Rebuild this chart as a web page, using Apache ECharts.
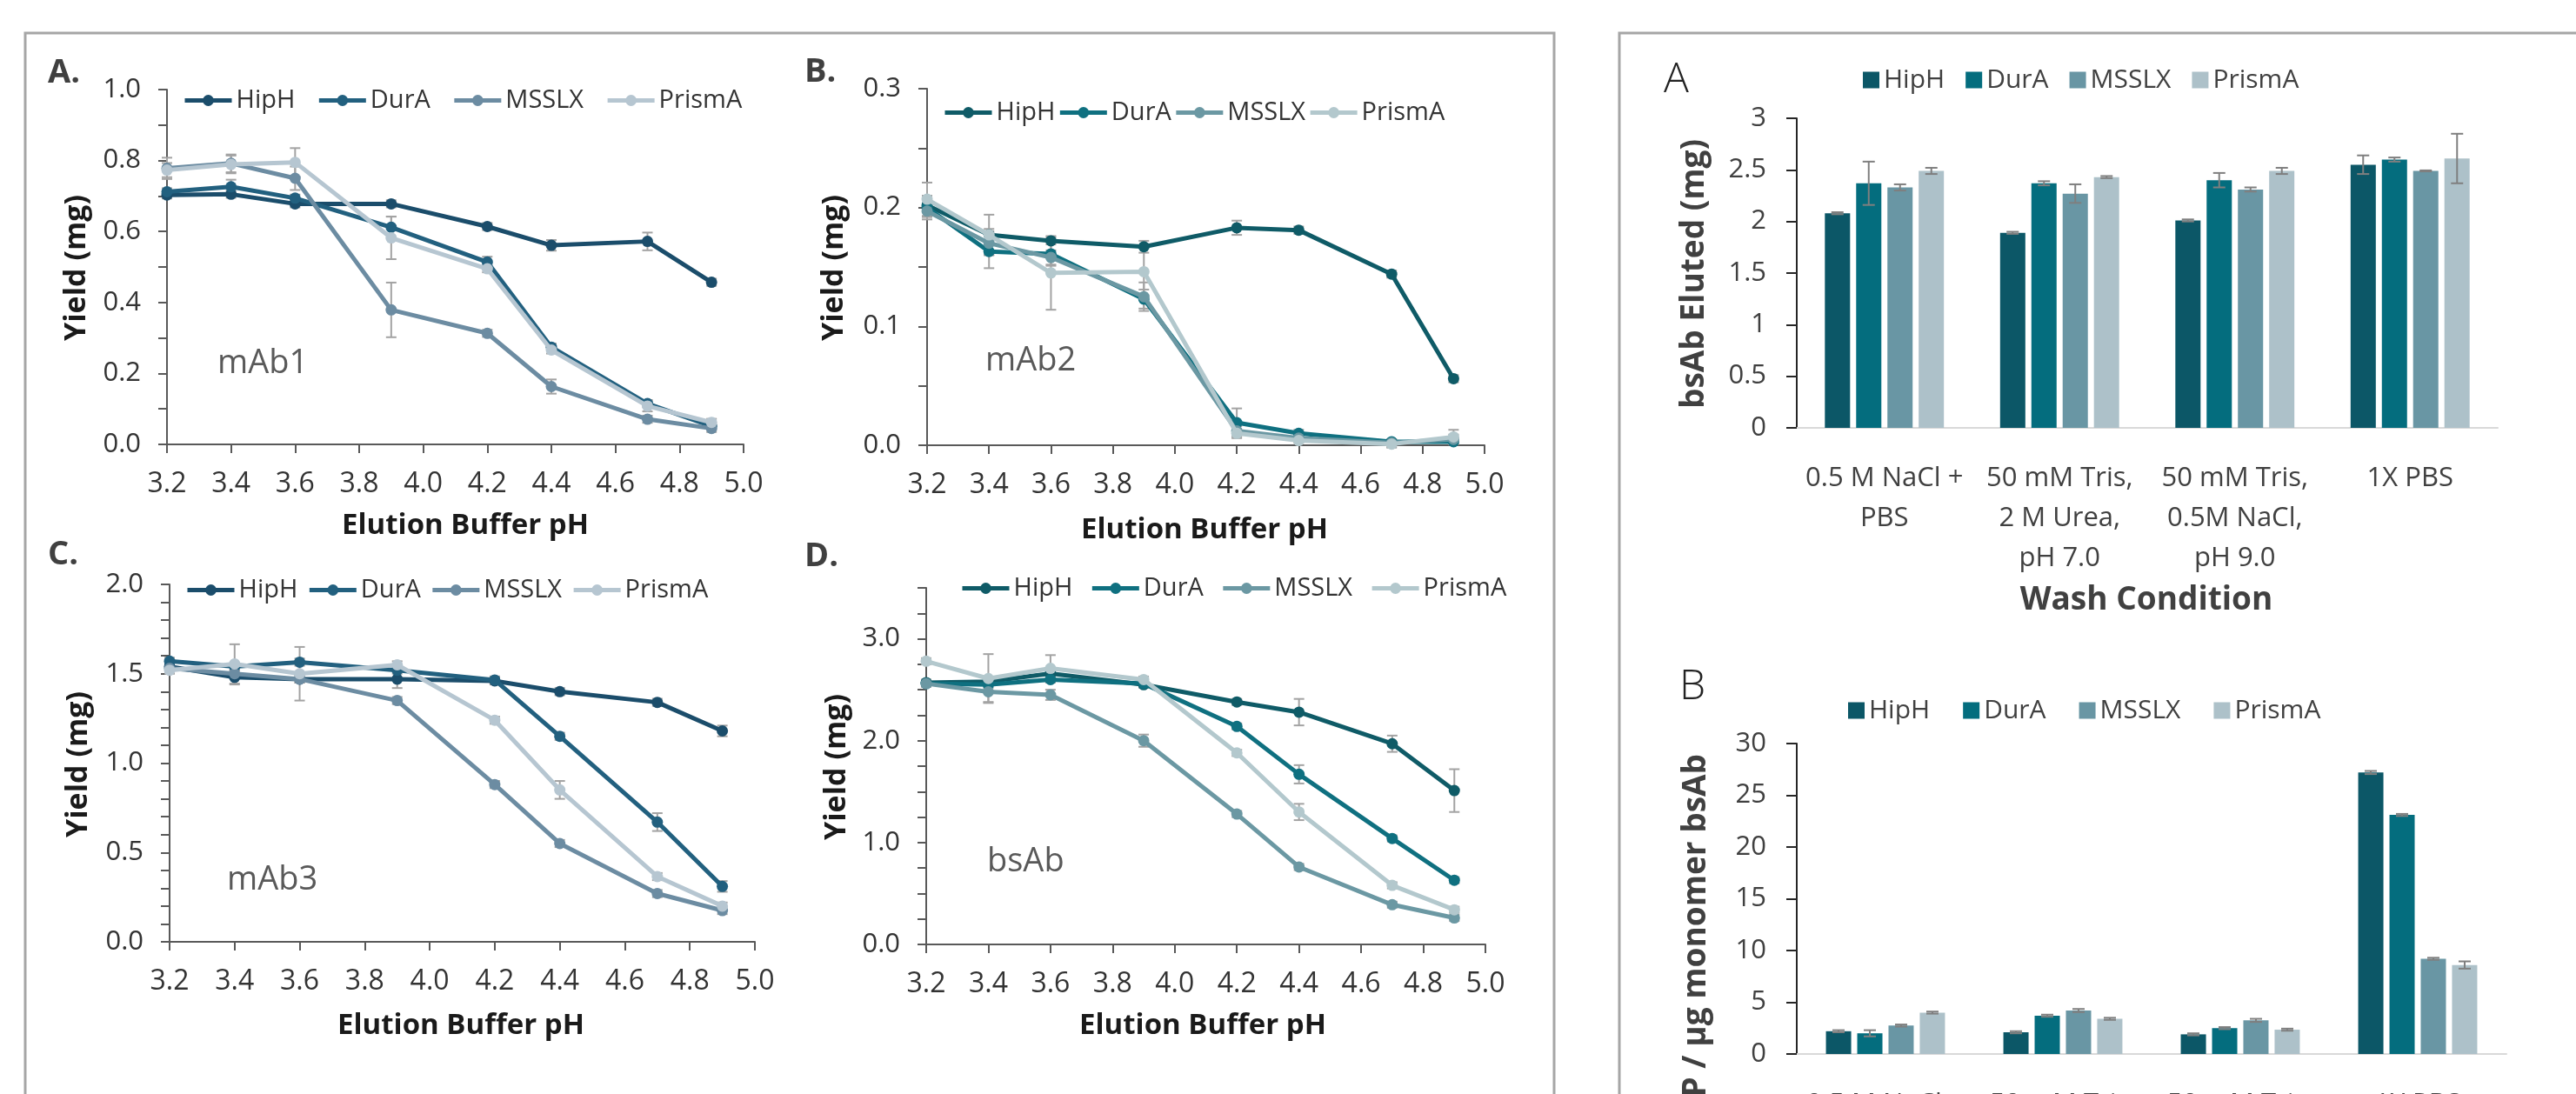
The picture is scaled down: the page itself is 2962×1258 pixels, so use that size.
<!DOCTYPE html>
<html>
<head>
<meta charset="utf-8">
<script src="https://cdn.jsdelivr.net/npm/echarts@6/dist/echarts.min.js"></script>
<style>
  html, body { margin: 0; padding: 0; background: #fff; }
  #chart { width: 2962px; height: 1258px; }
</style>
</head>
<body>
<div id="chart"></div>
<script>
// ---- data ----
const resinNames = ['HipH', 'DurA', 'MSSLX', 'PrismA'];
const elutionPH = [3.2, 3.4, 3.6, 3.9, 4.2, 4.4, 4.7, 4.9];

// yield (mg), one row per resin (HipH, DurA, MSSLX, PrismA)
const mab1Yield = [
  [0.703, 0.705, 0.678, 0.678, 0.614, 0.561, 0.572, 0.457],
  [0.712, 0.726, 0.694, 0.612, 0.514, 0.274, 0.115, 0.051],
  [0.778, 0.792, 0.750, 0.379, 0.313, 0.163, 0.071, 0.045],
  [0.773, 0.789, 0.795, 0.582, 0.495, 0.266, 0.108, 0.062]
];
const mab1Err = [
  [0.010, 0.010, 0.010, 0.010, 0.010, 0.015, 0.025, 0.010],
  [0.010, 0.020, 0.010, 0.030, 0.015, 0.010, 0.010, 0.010],
  [0.030, 0.025, 0.033, 0.077, 0.010, 0.020, 0.010, 0.010],
  [0.020, 0.025, 0.040, 0.060, 0.010, 0.010, 0.015, 0.010]
];
const mab2Yield = [
  [0.202, 0.177, 0.172, 0.167, 0.183, 0.181, 0.144, 0.056],
  [0.200, 0.163, 0.161, 0.123, 0.019, 0.010, 0.003, 0.003],
  [0.197, 0.170, 0.158, 0.125, 0.012, 0.006, 0.002, 0.005],
  [0.207, 0.177, 0.145, 0.146, 0.010, 0.004, 0.001, 0.007]
];
const mab2Err = [
  [0.005, 0.005, 0.003, 0.005, 0.006, 0.003, 0.003, 0.003],
  [0.010, 0.014, 0.010, 0.008, 0.012, 0.003, 0.002, 0.002],
  [0.005, 0.010, 0.006, 0.012, 0.004, 0.002, 0.003, 0.004],
  [0.014, 0.017, 0.031, 0.020, 0.004, 0.002, 0.003, 0.006]
];
const mab3Yield = [
  [1.54, 1.48, 1.47, 1.47, 1.46, 1.40, 1.34, 1.18],
  [1.57, 1.54, 1.565, 1.52, 1.465, 1.15, 0.67, 0.31],
  [1.53, 1.50, 1.47, 1.35, 0.88, 0.55, 0.27, 0.175],
  [1.52, 1.555, 1.50, 1.55, 1.24, 0.85, 0.365, 0.20]
];
const mab3Err = [
  [0.02, 0.04, 0.02, 0.05, 0.02, 0.02, 0.02, 0.03],
  [0.02, 0.02, 0.02, 0.02, 0.02, 0.02, 0.05, 0.03],
  [0.02, 0.02, 0.02, 0.02, 0.02, 0.02, 0.02, 0.02],
  [0.02, 0.11, 0.15, 0.02, 0.02, 0.05, 0.02, 0.02]
];
const bsabYield = [
  [2.57, 2.58, 2.66, 2.55, 2.38, 2.28, 1.97, 1.51],
  [2.56, 2.55, 2.60, 2.56, 2.14, 1.67, 1.04, 0.63],
  [2.56, 2.48, 2.45, 2.00, 1.28, 0.76, 0.39, 0.26],
  [2.78, 2.61, 2.71, 2.60, 1.88, 1.30, 0.58, 0.34]
];
const bsabErr = [
  [0.03, 0.03, 0.05, 0.03, 0.03, 0.13, 0.08, 0.21],
  [0.03, 0.03, 0.03, 0.03, 0.03, 0.09, 0.03, 0.03],
  [0.03, 0.10, 0.05, 0.06, 0.03, 0.03, 0.03, 0.03],
  [0.03, 0.24, 0.13, 0.03, 0.03, 0.08, 0.03, 0.03]
];

const washConditions = ['0.5 M NaCl +\nPBS', '50 mM Tris,\n2 M Urea,\npH 7.0', '50 mM Tris,\n0.5M NaCl,\npH 9.0', '1X PBS'];
// bsAb eluted (mg), one row per resin across wash conditions
const elutedMg = [
  [2.08, 1.89, 2.01, 2.55],
  [2.37, 2.37, 2.40, 2.60],
  [2.33, 2.27, 2.31, 2.49],
  [2.49, 2.43, 2.49, 2.61]
];
const elutedErr = [
  [0.01, 0.01, 0.01, 0.09],
  [0.21, 0.02, 0.07, 0.02],
  [0.03, 0.09, 0.02, 0.005],
  [0.03, 0.01, 0.03, 0.24]
];
// HCP per ug monomer bsAb
const hcpPerUg = [
  [2.2, 2.1, 1.9, 27.2],
  [2.0, 3.7, 2.5, 23.1],
  [2.75, 4.2, 3.25, 9.2],
  [4.0, 3.4, 2.35, 8.6]
];
const hcpErr = [
  [0.1, 0.1, 0.1, 0.15],
  [0.3, 0.1, 0.1, 0.1],
  [0.1, 0.15, 0.15, 0.1],
  [0.1, 0.1, 0.1, 0.35]
];

// ---- styling ----
const FONT = "'Open Sans', 'Liberation Sans', sans-serif";
const navy = ['#1b4d6b', '#22607f', '#6c8ca2', '#b6c6d1'];
const teal = ['#0f5b67', '#0f7080', '#6b98a3', '#b3c8cd'];
const barColors = ['#0c5767', '#046d7e', '#6996a4', '#adc1c9'];
const axisGrey = '#595959';

const linePanels = [
  { key: 'A', rows: mab1Yield, errs: mab1Err, colors: navy,
    grid: { left: 192, top: 103, width: 663, height: 408 },
    yMax: 1.0, yStep: 0.1, labelStep: 0.2, legend: { left: 210, top: 101, gap: 25 } },
  { key: 'B', rows: mab2Yield, errs: mab2Err, colors: teal,
    grid: { left: 1066, top: 102, width: 641, height: 410 },
    yMax: 0.3, yStep: 0.05, labelStep: 0.1, legend: { left: 1084, top: 115, gap: 3 } },
  { key: 'C', rows: mab3Yield, errs: mab3Err, colors: navy,
    grid: { left: 195, top: 672, width: 673, height: 411 },
    yMax: 2.0, yStep: 0.1, labelStep: 0.5, legend: { left: 213, top: 664, gap: 11 } },
  { key: 'D', rows: bsabYield, errs: bsabErr, colors: teal,
    grid: { left: 1065, top: 676, width: 643, height: 410 },
    yMax: 3.5, yStep: 0.25, labelStep: 1.0, legend: { left: 1104, top: 662, gap: 20 } }
];

const barPanels = [
  { key: 'barA', rows: elutedMg, errs: elutedErr,
    grid: { left: 2066, top: 136, width: 806, height: 356 },
    yMax: 3, yStep: 0.5, legend: { left: 2142, top: 77, gap: 24 } },
  { key: 'barB', rows: hcpPerUg, errs: hcpErr,
    grid: { left: 2066, top: 855, width: 816, height: 357 },
    yMax: 30, yStep: 5, legend: { left: 2125, top: 802, gap: 38 } }
];

const grids = [], xAxes = [], yAxes = [], series = [], legends = [];

function onStep(v, step) {
  const r = v / step;
  return Math.abs(r - Math.round(r)) < 1e-6;
}

function lineErrorRender(params, api) {
  const x = api.value(0);
  const lo = api.coord([x, api.value(1)]);
  const hi = api.coord([x, api.value(2)]);
  const cap = 6;
  const st = { stroke: '#a3a3a3', lineWidth: 2 };
  return {
    type: 'group',
    children: [
      { type: 'line', shape: { x1: lo[0], y1: lo[1], x2: hi[0], y2: hi[1] }, style: st },
      { type: 'line', shape: { x1: hi[0] - cap, y1: hi[1], x2: hi[0] + cap, y2: hi[1] }, style: st },
      { type: 'line', shape: { x1: lo[0] - cap, y1: lo[1], x2: lo[0] + cap, y2: lo[1] }, style: st }
    ]
  };
}

linePanels.forEach((p, gi) => {
  grids.push(Object.assign({ outerBoundsMode: 'none', containLabel: false }, p.grid));
  xAxes.push({
    gridIndex: gi, type: 'value', min: 3.2, max: 5.0, interval: 0.2,
    axisLine: { show: true, onZero: false, lineStyle: { color: axisGrey, width: 2 } },
    axisTick: { show: true, length: 10, lineStyle: { color: axisGrey, width: 2 } },
    axisLabel: { margin: 30, fontSize: 32, color: '#333', fontFamily: FONT,
      formatter: v => v.toFixed(1) },
    splitLine: { show: false }
  });
  yAxes.push({
    gridIndex: gi, type: 'value', min: 0, max: p.yMax, interval: p.yStep,
    axisLine: { show: true, lineStyle: { color: axisGrey, width: 2 } },
    axisTick: { show: true, length: 10, lineStyle: { color: axisGrey, width: 2 } },
    axisLabel: { margin: 30, fontSize: 31, color: '#333', fontFamily: FONT,
      formatter: v => (onStep(v, p.labelStep) ? v.toFixed(1) : '') },
    splitLine: { show: false }
  });
  const legendData = [];
  p.rows.forEach((row, si) => {
    const name = resinNames[si] + '|' + p.key;
    legendData.push(name);
    series.push({
      name: 'err' + si + '|' + p.key, type: 'custom', xAxisIndex: gi, yAxisIndex: gi, z: 1,
      renderItem: lineErrorRender, silent: true,
      data: elutionPH.map((x, i) => [x, row[i] - p.errs[si][i], row[i] + p.errs[si][i]])
    });
    series.push({
      name, type: 'line', xAxisIndex: gi, yAxisIndex: gi, z: 2 + si,
      symbol: 'circle', symbolSize: 13, showSymbol: true,
      lineStyle: { color: p.colors[si], width: 5 },
      itemStyle: { color: p.colors[si] },
      data: elutionPH.map((x, i) => [x, row[i]])
    });
  });
  legends.push({
    data: legendData, left: p.legend.left, top: p.legend.top, padding: 0,
    itemWidth: 54, itemHeight: 16, itemGap: p.legend.gap,
    lineStyle: { width: 5 },
    formatter: n => n.split('|')[0],
    textStyle: { fontSize: 29, color: '#333', fontFamily: FONT }
  });
});

const BAR_W = 29, BAR_STEP = 36;

barPanels.forEach((p, bi) => {
  const gi = linePanels.length + bi;
  grids.push(Object.assign({ outerBoundsMode: 'none', containLabel: false }, p.grid));
  xAxes.push({
    gridIndex: gi, type: 'category', data: washConditions,
    axisLine: { show: true, lineStyle: { color: '#d9d9d9', width: 2 } },
    axisTick: { show: false },
    axisLabel: { interval: 0, margin: 35, fontSize: 31, lineHeight: 46, color: '#404040', fontFamily: FONT }
  });
  yAxes.push({
    gridIndex: gi, type: 'value', min: 0, max: p.yMax, interval: p.yStep,
    axisLine: { show: true, lineStyle: { color: '#262626', width: 2 } },
    axisTick: { show: true, length: 12, lineStyle: { color: '#262626', width: 2 } },
    axisLabel: { margin: 35, fontSize: 31, color: '#404040', fontFamily: FONT },
    splitLine: { show: false }
  });
  const legendData = [];
  p.rows.forEach((row, si) => {
    const name = resinNames[si] + '|' + p.key;
    legendData.push(name);
    series.push({
      name, type: 'bar', xAxisIndex: gi, yAxisIndex: gi,
      barWidth: BAR_W, barGap: '24%',
      itemStyle: { color: barColors[si] },
      data: row
    });
    const off = (si - 1.5) * BAR_STEP;
    series.push({
      name: 'err' + si + '|' + p.key, type: 'custom', xAxisIndex: gi, yAxisIndex: gi, z: 5,
      silent: true,
      renderItem: (params, api) => {
        const lo = api.coord([api.value(0), api.value(1)]);
        const hi = api.coord([api.value(0), api.value(2)]);
        const x = lo[0] + off, cap = 7;
        const st = { stroke: '#7f7f7f', lineWidth: 2 };
        return {
          type: 'group',
          children: [
            { type: 'line', shape: { x1: x, y1: lo[1], x2: x, y2: hi[1] }, style: st },
            { type: 'line', shape: { x1: x - cap, y1: hi[1], x2: x + cap, y2: hi[1] }, style: st },
            { type: 'line', shape: { x1: x - cap, y1: lo[1], x2: x + cap, y2: lo[1] }, style: st }
          ]
        };
      },
      data: row.map((v, i) => [i, v - p.errs[si][i], v + p.errs[si][i]])
    });
  });
  legends.push({
    data: legendData, left: p.legend.left, top: p.legend.top, padding: 0,
    icon: 'rect', itemWidth: 19, itemHeight: 19, itemGap: p.legend.gap,
    formatter: n => n.split('|')[0],
    textStyle: { fontSize: 30, color: '#404040', fontFamily: FONT }
  });
});

// ---- text and frames ----
function txt(text, x, y, size, opts) {
  opts = opts || {};
  return {
    type: 'text', x, y, rotation: opts.rotation || 0, z: 10,
    style: {
      text, fill: opts.color || '#1a1a1a',
      font: (opts.weight || 'normal') + ' ' + size + 'px ' + FONT,
      align: opts.align || 'center', verticalAlign: opts.vAlign || 'middle'
    }
  };
}
const ROT = Math.PI / 2;
const graphics = [
  { type: 'rect', z: 0, shape: { x: 29, y: 38, width: 1758, height: 1300 },
    style: { fill: 'none', stroke: '#a6a6a6', lineWidth: 3 } },
  { type: 'rect', z: 0, shape: { x: 1862, y: 38, width: 1200, height: 1300 },
    style: { fill: 'none', stroke: '#a6a6a6', lineWidth: 3 } },
  txt('A.', 55, 84, 38, { weight: 'bold', align: 'left', color: '#404040' }),
  txt('B.', 925, 83, 38, { weight: 'bold', align: 'left', color: '#404040' }),
  txt('C.', 55, 638, 38, { weight: 'bold', align: 'left', color: '#404040' }),
  txt('D.', 925, 640, 38, { weight: 'bold', align: 'left', color: '#404040' }),
  txt('mAb1', 250, 418, 38, { align: 'left', color: '#595959' }),
  txt('mAb2', 1133, 415, 38, { align: 'left', color: '#595959' }),
  txt('mAb3', 261, 1012, 38, { align: 'left', color: '#595959' }),
  txt('bsAb', 1135, 991, 38, { align: 'left', color: '#595959' }),
  txt('Yield (mg)', 88, 308, 34, { weight: 'bold', rotation: ROT }),
  txt('Yield (mg)', 959, 308, 34, { weight: 'bold', rotation: ROT }),
  txt('Yield (mg)', 90, 879, 34, { weight: 'bold', rotation: ROT }),
  txt('Yield (mg)', 962, 882, 34, { weight: 'bold', rotation: ROT }),
  txt('Elution Buffer pH', 535, 605, 33, { weight: 'bold' }),
  txt('Elution Buffer pH', 1385, 610, 33, { weight: 'bold' }),
  txt('Elution Buffer pH', 530, 1180, 33, { weight: 'bold' }),
  txt('Elution Buffer pH', 1383, 1180, 33, { weight: 'bold' }),
  txt('A', 1913, 92, 48, { weight: 300, align: 'left', color: '#222' }),
  txt('B', 1931, 790, 48, { weight: 300, align: 'left', color: '#222' }),
  txt('bsAb Eluted (mg)', 1948, 315, 37, { weight: 'bold', rotation: ROT, color: '#404040' }),
  txt('ng HCP / µg monomer bsAb', 1950, 867, 37, { weight: 'bold', rotation: ROT, align: 'right', color: '#404040' }),
  txt('Wash Condition', 2468, 690, 37, { weight: 'bold', color: '#404040' })
];

const chart = echarts.init(document.getElementById('chart'));
chart.setOption({
  backgroundColor: '#ffffff',
  animation: false,
  textStyle: { fontFamily: FONT },
  grid: grids,
  xAxis: xAxes,
  yAxis: yAxes,
  legend: legends,
  series,
  graphic: graphics
});
</script>
</body>
</html>
